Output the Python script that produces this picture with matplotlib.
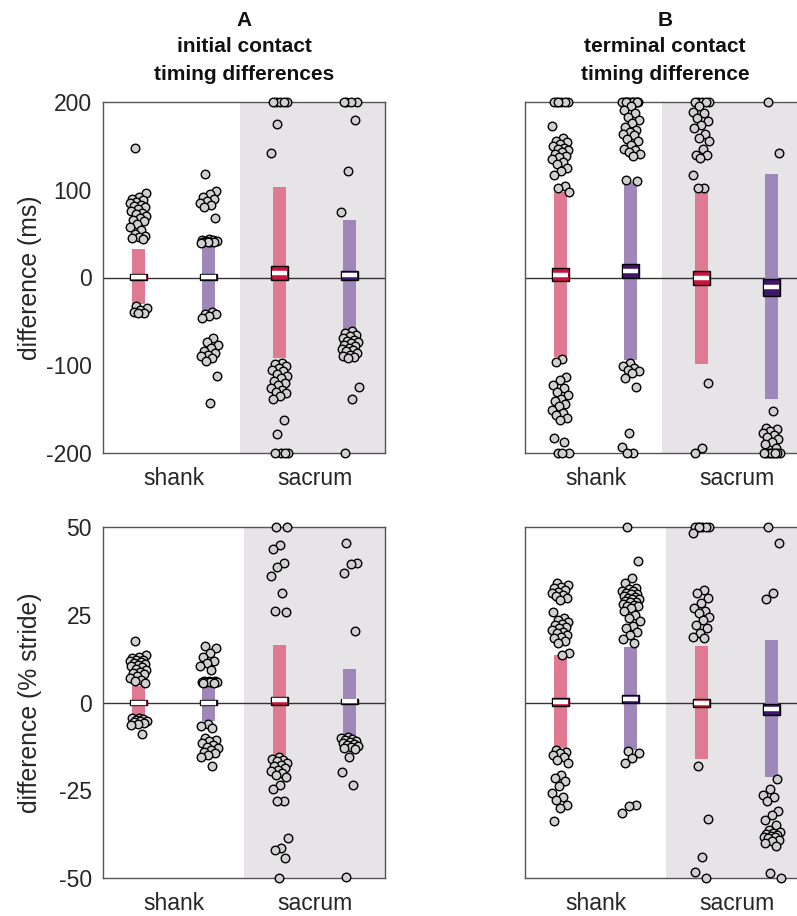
import numpy as np
import matplotlib
matplotlib.use("Agg")
import matplotlib.pyplot as plt

plt.rcParams['font.family'] = ['Liberation Sans', 'DejaVu Sans']

# group labels and positions
groups = ['shank', 'shank', 'sacrum', 'sacrum']
xpos = [1, 2, 3, 4]
tick_names = ['shank', 'sacrum']

pink = '#E07A93'
purple = '#A087B9'
pink_dark = '#C8153F'
purple_dark = '#3E1768'
shade = '#E6E4E6'

# ---------- A, ms ----------
ic_ms_shank_m1 = [148, 96, 92, 90, 88, 86, 85, 83, 81, 80, 78, 76, 74, 72, 70, 68, 66, 64, 61, 58,
                  54, 50, 47, 46, 45, 44, -33, -35, -37, -39, -40, -41]
ic_ms_shank_m2 = [118, 99, 95, 92, 90, 87, 85, 83, 80, 68, 44, 43, 43, 42, 42, 41, 41, 40, 40, 39,
                  -39, -42, -42, -44, -46, -69, -73, -77, -80, -84, -86, -88, -90, -92, -95, -112, -143]
ic_ms_sacrum_m1 = [200, 200, 200, 200, 200, 175, 142, -98, -99, -101, -103, -105, -107, -110, -112,
                   -115, -118, -120, -123, -126, -128, -130, -132, -135, -139, -162, -178,
                   -200, -200, -200, -200]
ic_ms_sacrum_m2 = [200, 200, 200, 200, 179, 121, 75, -61, -63, -65, -67, -69, -71, -72, -74, -75,
                   -77, -78, -80, -81, -83, -84, -86, -88, -89, -91, -92, -125, -139, -200]
ic_ms_range = [(-30, 32), (-38, 37), (-92, 103), (-60, 65)]
ic_ms_median = [1, 1, 5, 3]
ic_ms_ci = [(-2.5, 3.5), (-2.5, 3.5), (-3, 13), (-3, 7.5)]

# ---------- B, ms ----------
tc_ms_shank_m1 = [200, 200, 200, 200, 200, 200, 173, 159, 156, 154, 152, 150, 148, 146, 145, 143,
                  141, 139, 137, 135, 132, 129, 125, 121, 117, 104, 102, 98, -93, -96,
                  -113, -117, -122, -126, -130, -134, -138, -141, -144, -147, -151, -154, -157,
                  -160, -162, -183, -187, -200, -200, -200]
tc_ms_shank_m2 = [200, 200, 200, 200, 200, 200, 200, 200, 200, 200, 195, 191, 187, 183, 180, 176,
                  172, 168, 166, 164, 162, 158, 155, 151, 147, 145, 143, 141, 139, 111, 110,
                  -97, -101, -103, -105, -107, -109, -114, -125, -177, -193, -200, -200]
tc_ms_sacrum_m1 = [200, 200, 200, 200, 200, 195, 189, 187, 182, 178, 174, 170, 164, 159, 155, 147,
                   140, 140, 136, 117, 102, 102, -120, -194, -200]
tc_ms_sacrum_m2 = [200, 142, -152, -171, -173, -175, -177, -179, -182, -184, -187, -190, -194,
                   -200, -200, -200, -200, -200, -200, -200, -200]
tc_ms_range = [(-91, 97), (-94, 109), (-99, 97), (-139, 118)]
tc_ms_median = [3, 7.5, -1, -11]
tc_ms_ci = [(-4.5, 10.5), (-1, 15), (-9, 7), (-21, -1.5)]

# ---------- A, % stride ----------
ic_pct_shank_m1 = [17.4, 13.5, 13.0, 12.6, 12.2, 12.0, 11.8, 11.5, 11.2, 11.0, 10.7, 10.4, 10.0,
                   9.6, 9.2, 8.8, 8.4, 8.0, 7.5, 7.0, 6.5, 6.0, 5.6, -4.3, -4.5, -4.8, -5.0,
                   -5.2, -5.4, -5.6, -5.9, -6.2, -6.5, -8.9]
ic_pct_shank_m2 = [16.1, 15.5, 14.0, 13.0, 11.7, 11.2, 10.5, 9.3, 6.2, 6.1, 6.0, 5.9, 5.9, 5.8,
                   5.8, 5.7, 5.6, 5.5, -6.2, -6.8, -7.3, -10.2, -10.7, -11.1, -11.6, -12.1,
                   -12.6, -13.0, -13.5, -14.0, -14.5, -14.9, -15.4, -18.0]
ic_pct_sacrum_m1 = [50, 50, 44.9, 43.7, 39.7, 38.7, 35.9, 31.3, 26.2, 25.9, -15.6, -16.0, -16.3,
                    -16.8, -17.3, -17.8, -18.2, -18.7, -19.2, -19.6, -20.1, -20.6, -21.1, -23.6,
                    -24.7, -28.0, -28.2, -38.7, -41.5, -42.0, -44.3, -50]
ic_pct_sacrum_m2 = [45.4, 39.7, 39.4, 37.0, 20.4, -9.7, -10.0, -10.3, -10.6, -11.0, -11.3, -11.6,
                    -11.9, -12.2, -12.5, -12.8, -13.0, -13.3, -15.6, -19.9, -23.5, -49.6]
ic_pct_range = [(-4, 4.6), (-5.4, 5.7), (-15.2, 16.3), (-9.2, 9.6)]
ic_pct_median = [0, 0, 0.7, 0.3]
ic_pct_ci = [(-0.6, 0.6), (-0.6, 0.6), (-0.8, 1.7), (-0.5, 0.9)]

# ---------- B, % stride ----------
tc_pct_shank_m1 = [34.0, 33.5, 33.0, 32.6, 32.1, 31.6, 31.1, 30.7, 30.2, 29.7, 29.2, 25.9, 24.0,
                   23.5, 23.0, 22.5, 22.1, 21.6, 21.2, 20.7, 20.2, 19.8, 19.3, 18.8, 18.3, 17.6,
                   16.9, 14.2, 13.6, -13.5, -14.0, -14.4, -14.9, -15.4, -16.3, -17.3, -20.6,
                   -21.6, -22.5, -23.9, -25.8, -26.8, -27.7, -29.2, -30.1, -33.9]
tc_pct_shank_m2 = [50, 40.2, 35.4, 34.0, 32.6, 32.2, 31.9, 31.8, 31.3, 31.0, 30.9, 30.4, 30.1,
                   29.9, 29.5, 29.4, 29.0, 28.6, 28.5, 28.0, 27.9, 27.5, 27.4, 26.8, 26.1, 24.9,
                   24.2, 23.1, 21.8, 21.2, 20.1, 19.2, 18.1, 17.0, -13.8, -14.4, -15.9, -17.3,
                   -29.2, -29.6, -31.5]
tc_pct_sacrum_m1 = [50, 50, 50, 50, 50, 50, 48.2, 32.1, 31.1, 29.7, 28.3, 26.9, 26.0, 25.5, 24.5,
                    23.6, 22.0, 21.2, 19.8, 18.8, 18.3, -18.2, -33.2, -43.9, -48.4, -50]
tc_pct_sacrum_m2 = [50, 45.4, 31.1, 29.5, -21.8, -24.7, -26.3, -26.8, -28.2, -31.0, -32.0, -33.4,
                    -34.9, -36.3, -37.0, -37.2, -37.5, -37.7, -37.9, -38.2, -38.4, -38.7, -39.1,
                    -39.5, -40.1, -40.8, -48.6, -50]
tc_pct_range = [(-13, 13.6), (-13.5, 15.8), (-16.1, 16), (-21.3, 17.7)]
tc_pct_median = [0.2, 1.0, -0.1, -1.9]
tc_pct_ci = [(-0.9, 1.2), (-0.2, 2.2), (-1.4, 1.0), (-3.5, -0.4)]

panels = [
    dict(pts=[ic_ms_shank_m1, ic_ms_shank_m2, ic_ms_sacrum_m1, ic_ms_sacrum_m2],
         rng=ic_ms_range, med=ic_ms_median, ci=ic_ms_ci, lim=200,
         ticks=[-200, -100, 0, 100, 200], shade=2.44),
    dict(pts=[tc_ms_shank_m1, tc_ms_shank_m2, tc_ms_sacrum_m1, tc_ms_sacrum_m2],
         rng=tc_ms_range, med=tc_ms_median, ci=tc_ms_ci, lim=200,
         ticks=[-200, -100, 0, 100, 200], shade=2.44),
    dict(pts=[ic_pct_shank_m1, ic_pct_shank_m2, ic_pct_sacrum_m1, ic_pct_sacrum_m2],
         rng=ic_pct_range, med=ic_pct_median, ci=ic_pct_ci, lim=50,
         ticks=[-50, -25, 0, 25, 50], shade=2.5),
    dict(pts=[tc_pct_shank_m1, tc_pct_shank_m2, tc_pct_sacrum_m1, tc_pct_sacrum_m2],
         rng=tc_pct_range, med=tc_pct_median, ci=tc_pct_ci, lim=50,
         ticks=[-50, -25, 0, 25, 50], shade=2.5),
]

fig = plt.figure(figsize=(7.97, 9.16), dpi=100)
W, H = 797, 916
boxes = [(103, 102), (525, 102), (103, 527), (525, 527)]  # left, top in px
aw, ah = 282, 351

for k, (p, (lx, ty)) in enumerate(zip(panels, boxes)):
    ax = fig.add_axes([lx / W, 1 - (ty + ah) / H, aw / W, ah / H])
    lim = p['lim']
    ax.set_xlim(0.5, 4.5)
    ax.set_ylim(-lim, lim)
    ax.axvspan(p['shade'], 4.5, color=shade, zorder=0, lw=0)
    ax.axhline(0, color='#333333', lw=1.0, zorder=1)

    for i, x in enumerate(xpos):
        light = pink if i % 2 == 0 else purple
        dark = pink_dark if i % 2 == 0 else purple_dark
        lo, hi = p['rng'][i]
        ax.bar(x, hi - lo, bottom=lo, width=0.19, color=light, zorder=2, lw=0)

        # jittered points (deterministic spread)
        vals = np.clip(np.array(p['pts'][i], dtype=float), -lim, lim)
        n = len(vals)
        offs = ((np.arange(n) * 0.618034 + 0.31) % 1.0 - 0.5) * 0.25
        ax.scatter(x + offs, vals, s=38, facecolor='#D0D0D0', edgecolor='black',
                   linewidth=1.0, zorder=5, clip_on=False)

        # median CI box with white median stripe
        clo, chi = p['ci'][i]
        ax.bar(x, chi - clo, bottom=clo, width=0.24, color=dark, edgecolor='black',
               linewidth=1.0, zorder=3)
        ax.plot([x - 0.105, x + 0.105], [p['med'][i]] * 2, color='white', lw=3.2,
                solid_capstyle='butt', zorder=4)

    for s in ax.spines.values():
        s.set_color('#555555')
        s.set_linewidth(1.0)
    ax.tick_params(length=0, labelsize=16.5, colors='#262626', pad=8)
    ax.set_yticks(p['ticks'])
    ax.set_xticks([1.5, 3.5])
    ax.set_xticklabels(tick_names, fontsize=16.5)
    ax.tick_params(axis='x', pad=10)
    if k % 2 == 0:
        ax.set_yticklabels([str(t) for t in p['ticks']])
        ax.set_ylabel('difference (ms)' if k == 0 else 'difference (% stride)',
                      fontsize=17.8, color='#262626')
        ax.yaxis.set_label_coords(-0.215, 0.5)
    else:
        ax.set_yticklabels([])

# column titles
for cx, lines in [(244, ['A', 'initial contact', 'timing differences']),
                  (665, ['B', 'terminal contact', 'timing difference'])]:
    for line, yy in zip(lines, [20, 47, 75]):
        fig.text(cx / W, 1 - yy / H, line, ha='center', va='center',
                 fontsize=15, fontweight='bold', color='#111111')

fig.savefig('out.png', dpi=100)
